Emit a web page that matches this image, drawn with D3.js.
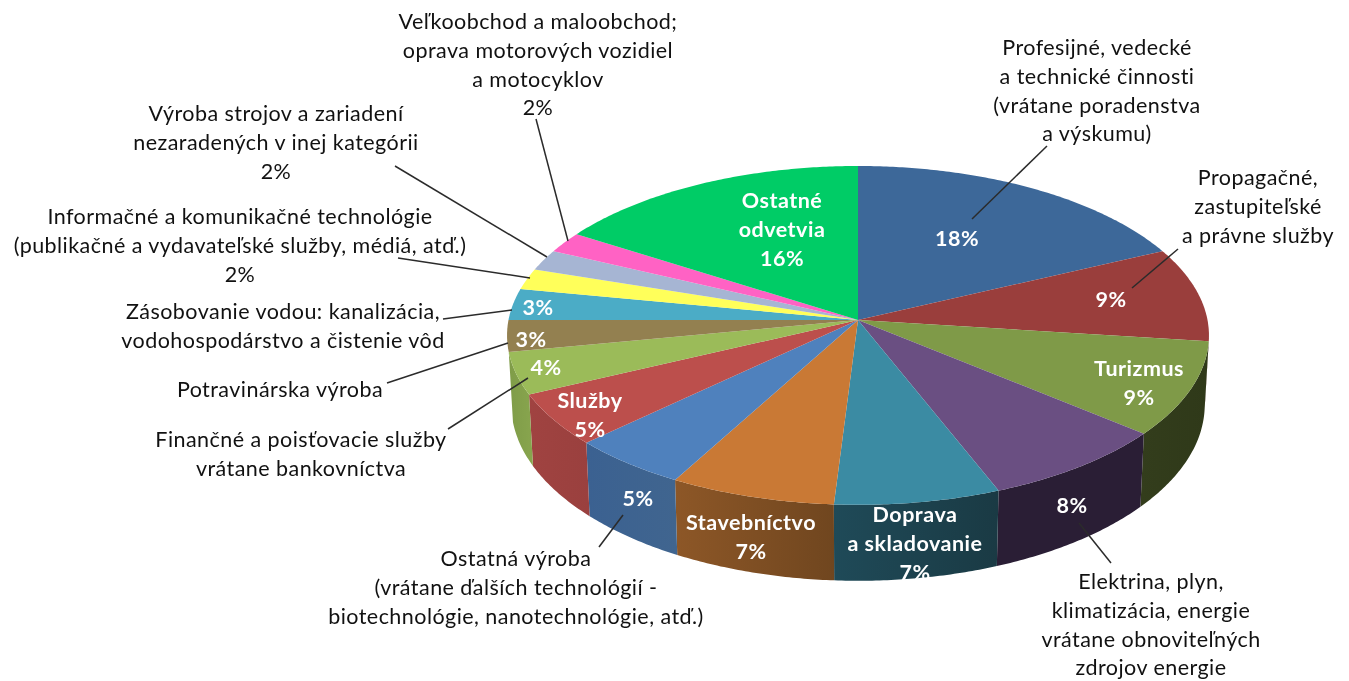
<!DOCTYPE html>
<html>
<head>
<meta charset="utf-8">
<script src="https://cdn.jsdelivr.net/npm/d3@7"></script>
<style>
  html, body { margin: 0; background: #fff; }
  svg { display: block; filter: blur(0.45px); }
  text { font-family: Lato, "Noto Sans", sans-serif; text-anchor: middle; dominant-baseline: central; }
  .outer { font-size: 21.5px; letter-spacing: 0.45px; fill: #111; }
  .inner { font-size: 21.5px; letter-spacing: 0.5px; font-weight: 700; fill: #fff; }
  .leader { stroke: #2b2b2b; stroke-width: 1.5; fill: none; }
</style>
</head>
<body>
<svg id="chart" width="1349" height="681"></svg>
<script>
// clockwise from 12 o'clock
const categories = [
  "Profesijné, vedecké a technické činnosti", "Propagačné, zastupiteľské a právne služby", "Turizmus",
  "Elektrina, plyn, klimatizácia, energie", "Doprava a skladovanie", "Stavebníctvo", "Ostatná výroba", "Služby",
  "Finančné a poisťovacie služby", "Potravinárska výroba", "Zásobovanie vodou", "Informačné a komunikačné technológie",
  "Výroba strojov a zariadení", "Veľkoobchod a maloobchod", "Ostatné odvetvia",
];
const values = [18, 9, 9, 8, 7, 7, 5, 5, 4, 3, 3, 2, 2, 2, 16];
const topColors = ["#3d6899", "#9a3e3c", "#7f9a48", "#6a4f82", "#3b8ba3", "#c97935", "#4f81bd", "#bc4f4c", "#9bbb59", "#938050", "#4bacc6", "#ffff5a", "#a6b5d3", "#ff62c4", "#00cc66"];
const sideColors = [
  ["#2a4669", "#2a4669"], ["#6a2b29", "#6a2b29"], ["#333d1c", "#2f3919"], ["#2a1e35", "#2a1e35"],
  ["#1f4a58", "#1a3a44"], ["#8d5727", "#70461f"], ["#3b6191", "#40658f"], ["#a04341", "#9a403e"],
  ["#7f9c48", "#88a54e"], ["#7a6a42", "#7a6a42"], ["#3d8ba1", "#3d8ba1"], ["#cccc48", "#cccc48"],
  ["#8591a9", "#8591a9"], ["#cc4e9d", "#cc4e9d"], ["#00a352", "#00a352"],
];

const outerLabels = [
  { lines: ["Profesijné, vedecké", "a technické činnosti", "(vrátane poradenstva", "a výskumu)"], x: 1097, y: 47 },
  { lines: ["Propagačné,", "zastupiteľské", "a právne služby"], x: 1258, y: 177 },
  { lines: ["Elektrina, plyn,", "klimatizácia, energie", "vrátane obnoviteľných", "zdrojov energie"], x: 1151, y: 581 },
  { lines: ["Ostatná výroba", "(vrátane ďalších technológií -", "biotechnológie, nanotechnológie, atď.)"], x: 516, y: 558 },
  { lines: ["Finančné a poisťovacie služby", "vrátane bankovníctva"], x: 301, y: 439 },
  { lines: ["Potravinárska výroba"], x: 280, y: 389 },
  { lines: ["Zásobovanie vodou: kanalizácia,", "vodohospodárstvo a čistenie vôd"], x: 283, y: 311 },
  { lines: ["Informačné a komunikačné technológie", "(publikačné a vydavateľské služby, médiá, atď.)", "2%"], x: 240, y: 216 },
  { lines: ["Výroba strojov a zariadení", "nezaradených v inej kategórii", "2%"], x: 276, y: 113 },
  { lines: ["Veľkoobchod a maloobchod;", "oprava motorových vozidiel", "a motocyklov", "2%"], x: 538, y: 21 },
];
const innerLabels = [
  { lines: ["18%"], x: 957, y: 238 },
  { lines: ["9%"], x: 1111, y: 299 },
  { lines: ["Turizmus", "9%"], x: 1139, y: 368 },
  { lines: ["8%"], x: 1072, y: 505 },
  { lines: ["Doprava", "a skladovanie", "7%"], x: 915, y: 514 },
  { lines: ["Stavebníctvo", "7%"], x: 751, y: 522 },
  { lines: ["5%"], x: 638, y: 498 },
  { lines: ["Služby", "5%"], x: 590, y: 400 },
  { lines: ["4%"], x: 546, y: 367 },
  { lines: ["3%"], x: 531, y: 339 },
  { lines: ["3%"], x: 538, y: 307 },
  { lines: ["Ostatné", "odvetvia", "16%"], x: 782, y: 200 },
];
const leaders = [
  [972, 219, 1047, 146], [1132, 288, 1178, 249], [1079, 523, 1111, 563], [623, 515, 599, 547],
  [528, 378, 448, 429], [508, 343, 387, 383], [512, 310, 443, 319], [530, 278, 398, 258],
  [547, 257, 395, 166], [568, 241, 536, 119],
];

const svg = d3.select("#chart");
const defs = svg.append("defs");
const LINE = 28.8;

// tilted disc seen with a bit of perspective, so the centre sits above the ellipse middle
const cx = 858, cy = 320, rx = 349.5, ry = 168, persp = 0.0909;
const lift = { dy: 68.6, sx: 0.988, sy: 1.04 };

function project(a, lower) {
  const u = Math.sin(a), v = -Math.cos(a), w = 1 - persp * v;
  const x = rx * u / w, y = ry * v / w;
  return lower ? [cx + x * lift.sx, cy + lift.dy + y * lift.sy] : [cx + x, cy + y];
}

const pie = d3.pie().sort(null).value((d) => d);
const arcs = pie(values);
const line = d3.line();

function rimAngles(a0, a1) {
  const n = Math.max(2, Math.ceil((a1 - a0) / 0.01));
  return d3.range(n + 1).map((i) => a0 + ((a1 - a0) * i) / n);
}

// side walls, only the part of the rim facing the viewer
const frontStart = Math.PI / 2 + 0.09, frontEnd = (3 * Math.PI) / 2 - 0.19;
const sides = svg.append("g");
arcs.forEach((d, i) => {
  const a0 = Math.max(d.startAngle, frontStart), a1 = Math.min(d.endAngle, frontEnd);
  if (a1 <= a0) return;
  const grad = defs.append("linearGradient").attr("id", `side${i}`);
  grad.append("stop").attr("offset", "0%").attr("stop-color", sideColors[i][0]);
  grad.append("stop").attr("offset", "100%").attr("stop-color", sideColors[i][1]);
  const angles = rimAngles(a0, a1);
  const pts = [...angles.map((a) => project(a)), ...angles.slice().reverse().map((a) => project(a, true))];
  sides.append("path").attr("d", line(pts) + "Z").attr("fill", `url(#side${i})`);
});

svg.append("g")
  .selectAll("path")
  .data(arcs)
  .join("path")
  .attr("fill", (d, i) => topColors[i])
  .attr("d", (d) => line([[cx, cy], ...rimAngles(d.startAngle, d.endAngle).map((a) => project(a))]) + "Z");

svg.append("g")
  .selectAll("line")
  .data(leaders)
  .join("line")
  .attr("class", "leader")
  .attr("x1", (d) => d[0]).attr("y1", (d) => d[1])
  .attr("x2", (d) => d[2]).attr("y2", (d) => d[3]);

function drawLabels(data, cls) {
  svg.append("g")
    .selectAll("text")
    .data(data.flatMap((d) => d.lines.map((t, i) => ({ t, x: d.x, y: d.y + i * LINE }))))
    .join("text")
    .attr("class", cls)
    .attr("x", (d) => d.x)
    .attr("y", (d) => d.y)
    .text((d) => d.t);
}

drawLabels(outerLabels, "outer");
drawLabels(innerLabels, "inner");
</script>
</body>
</html>
